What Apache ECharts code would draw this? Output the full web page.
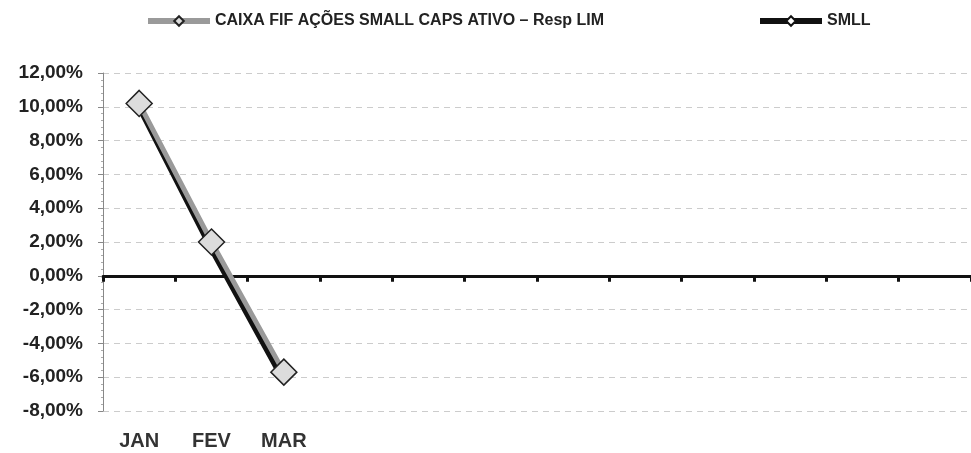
<!DOCTYPE html>
<html>
<head>
<meta charset="utf-8">
<script src="https://cdn.jsdelivr.net/npm/echarts@6/dist/echarts.min.js"></script>
<style>
  html, body { margin: 0; padding: 0; background: #fff; }
  #chart { width: 971px; height: 453px; }
</style>
</head>
<body>
<div id="chart"></div>
<script>
const months = ["JAN", "FEV", "MAR", "ABR", "MAI", "JUN", "JUL", "AGO", "SET", "OUT", "NOV", "DEZ"];
const shownLabels = ["JAN", "FEV", "MAR", "", "", "", "", "", "", "", "", ""];
const fundName = "CAIXA FIF AÇÕES SMALL CAPS ATIVO – Resp LIM";
const indexName = "SMLL";
const fundValues = [10.2, 2.0, -5.7];
const indexValues = [10.0, 1.6, -6.2];
const yTicks = { min: -8, max: 12, step: 2 };

const font = "'Liberation Sans', Arial, sans-serif";
const chart = echarts.init(document.getElementById("chart"));

chart.setOption({
  animation: false,
  backgroundColor: "#fff",
  textStyle: { fontFamily: font },
  legend: [
    {
      data: [fundName],
      left: 140,
      top: 8,
      itemWidth: 62,
      itemHeight: 12,
      lineStyle: { width: 6 },
      textStyle: { fontFamily: font, fontWeight: "bold", fontSize: 16, color: "#222" }
    },
    {
      data: [indexName],
      left: 752,
      top: 8,
      itemWidth: 62,
      itemHeight: 12,
      lineStyle: { width: 6 },
      textStyle: { fontFamily: font, fontWeight: "bold", fontSize: 16, color: "#222" }
    }
  ],
  grid: { left: 103, right: 0, top: 73, bottom: 42 },
  xAxis: [
    {
      type: "category",
      data: months,
      position: "bottom",
      axisLine: { show: false, onZero: false },
      axisTick: { show: false },
      splitLine: { show: false },
      axisLabel: {
        margin: 20,
        interval: 0,
        fontFamily: font,
        fontWeight: "bold",
        fontSize: 20,
        color: "#333",
        formatter: (v, i) => shownLabels[i]
      }
    },
    {
      type: "category",
      data: months,
      position: "top",
      axisLine: { show: true, onZero: true, lineStyle: { color: "#111", width: 3 } },
      axisTick: { show: true, inside: true, length: 6, lineStyle: { color: "#111", width: 3 } },
      axisLabel: { show: false },
      splitLine: { show: false }
    }
  ],
  yAxis: {
    type: "value",
    min: yTicks.min,
    max: yTicks.max,
    interval: yTicks.step,
    axisLine: { show: true, lineStyle: { color: "#888", width: 1 } },
    axisTick: { show: true, length: 5, lineStyle: { color: "#888" } },
    minorTick: { show: true, splitNumber: 5, length: 2, lineStyle: { color: "#aaa" } },
    splitLine: { show: true, lineStyle: { color: "#ccc", type: [6, 5], width: 1 } },
    axisLabel: {
      margin: 20,
      fontFamily: font,
      fontWeight: "bold",
      fontSize: 19,
      color: "#222",
      formatter: (v) => v.toFixed(2).replace(".", ",") + "%"
    }
  },
  series: [
    {
      name: indexName,
      type: "line",
      xAxisIndex: 0,
      data: indexValues,
      z: 2,
      symbol: "diamond",
      symbolSize: 7,
      lineStyle: { color: "#111", width: 6 },
      itemStyle: { color: "#fff", borderColor: "#111", borderWidth: 1 }
    },
    {
      name: fundName,
      type: "line",
      xAxisIndex: 0,
      data: fundValues,
      z: 3,
      symbol: "diamond",
      symbolSize: 26,
      lineStyle: { color: "#9a9a9a", width: 5 },
      itemStyle: { color: "#dcdcdc", borderColor: "#222", borderWidth: 1.5 }
    }
  ]
});
</script>
</body>
</html>
